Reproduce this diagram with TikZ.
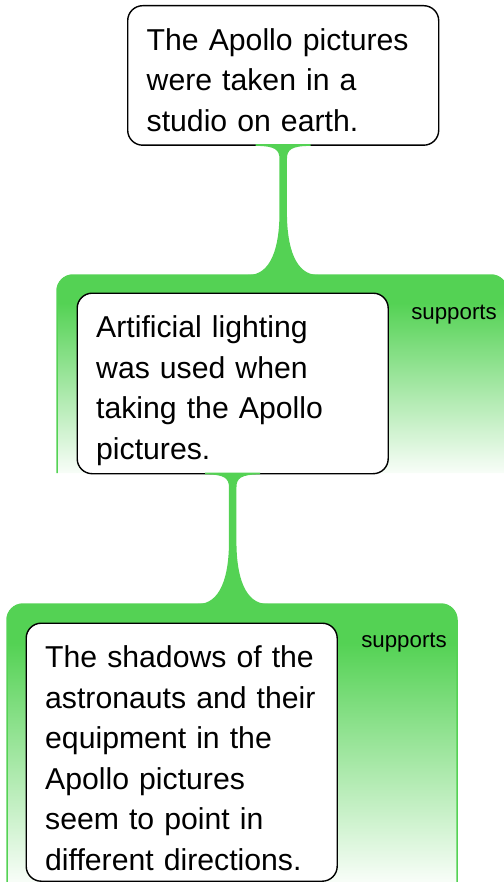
\documentclass[tikz,border=0pt]{standalone}
\usepackage{fontspec}
\setmainfont{Liberation Sans}
\usetikzlibrary{calc}
\definecolor{sgreen}{RGB}{84,210,84}
\pgfdeclareverticalshading{supportshade}{100bp}{color(0bp)=(white); color(25bp)=(white!96!sgreen); color(68bp)=(sgreen); color(100bp)=(sgreen)}
\newcommand\supportarea[1]{%
  \shade[shading=supportshade] (#1.south west) [rounded corners=16pt] -- (#1.north west) -- (#1.north east) [sharp corners] -- (#1.south east) -- cycle;
  \draw[sgreen, line width=1.5pt] (#1.south west) [rounded corners=16pt] -- (#1.north west) -- (#1.north east) -- (#1.south east);}
\newcommand\suplink[2]{%
  \fill[sgreen] let \p1=(#1.south), \p2=(#2.north) in
  (\x1-27.5pt,\y1+1.8pt) -- (\x1-27.5pt,\y1) .. controls (\x1-8pt,\y1) and (\x1-3.75pt,\y1-4pt) .. (\x1-3.75pt,\y1-13pt)
  -- (\x1-3.75pt,\y2+62pt) .. controls (\x1-3.75pt,\y2+28pt) and (\x1-12pt,\y2) .. (\x1-35pt,\y2)
  -- (\x1+35pt,\y2) .. controls (\x1+12pt,\y2) and (\x1+3.75pt,\y2+28pt) .. (\x1+3.75pt,\y2+62pt)
  -- (\x1+3.75pt,\y1-13pt) .. controls (\x1+3.75pt,\y1-4pt) and (\x1+8pt,\y1) .. (\x1+27.5pt,\y1)
  -- (\x1+27.5pt,\y1+1.8pt) -- cycle;}
\begin{document}
\begin{tikzpicture}[x=1pt,y=1pt,
  claim/.style={draw=black, line width=1.4pt, rounded corners=15pt, fill=white,
    anchor=north west, inner xsep=19pt, inner ysep=0pt, text width=273pt, align=left,
    font=\fontsize{30.2}{40.5}\selectfont, text height=44.5pt},
  area/.style={anchor=north west, inner sep=0pt, outer sep=0pt, minimum width=450pt},
  suplabel/.style={anchor=base east, inner sep=0pt, font=\fontsize{22.3}{26}\selectfont}]
\useasboundingbox (0,0) rectangle (503,-882);
\node[area, minimum height=198pt] (s1) at (57,-275) {};
\node[area, minimum height=278pt] (s2) at (7,-604) {};
\supportarea{s1}
\supportarea{s2}
\node[suplabel] (l1) at ($(s1.north east)+(-10,-44)$) {supports};
\node[suplabel] (l2) at ($(s2.north east)+(-10,-43)$) {supports};
\node[claim, text depth=95pt] (c1) at (127,-5) {The Apollo pictures\\were taken in a\\studio on earth.};
\node[claim, text depth=136pt] (c2) at (76.5,-292.5) {Artificial lighting\\was used when\\taking the Apollo\\pictures.};
\node[claim, text depth=213.5pt] (c3) at (25.5,-622.5) {The shadows of the\\\mbox{astronauts and their}\\equipment in the\\Apollo pictures\\seem to point in\\different directions.};
\suplink{c1}{s1}
\suplink{c2}{s2}
\end{tikzpicture}
\end{document}
